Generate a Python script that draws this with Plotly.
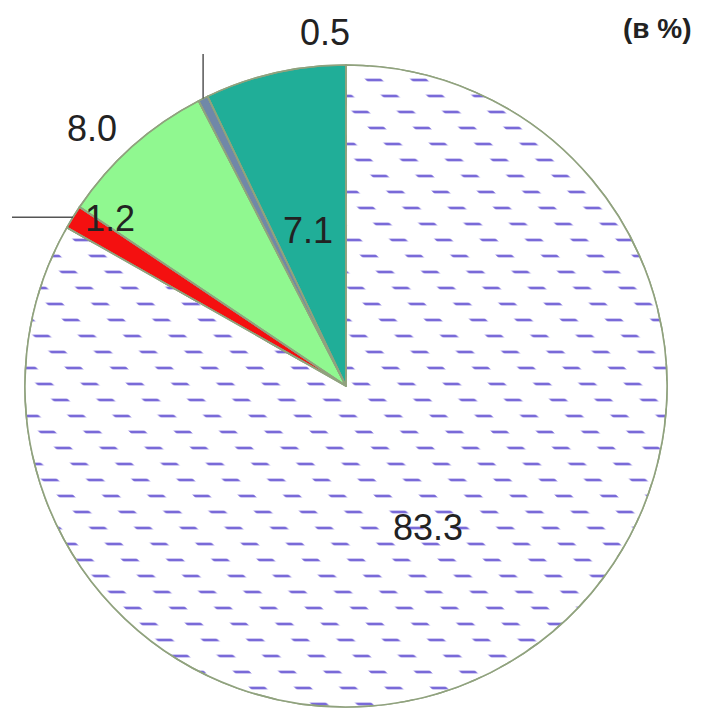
import math
import plotly.graph_objects as go

# ---- data ----
values = [83.3, 1.2, 8.0, 0.5, 7.1]
labels_txt = ["83.3", "1.2", "8.0", "0.5", "7.1"]
unit_note = "(в %)"

# ---- style ----
colors = ["#ffffff", "#f41010", "#90f890", "#7088a8", "#20ae98"]
W, H = 701, 711          # browser window
PAGE = 8                 # default body margin of the html page
FW, FH = W - PAGE, H - PAGE
CX, CY, R = 346, 386, 321  # pie centre / radius in window px

# label placement: (radius factor, angle offset in degrees from slice middle)
label_place = [(0.51, 0.0), (0.90, 3.6), (1.128, -2.9), (1.103, 23.0), (0.50, -1.0)]
FONT = "Liberation Sans, Arial, sans-serif"
TRANSPARENT = "rgba(0,0,0,0)"


def px_to_paper(x, y):
    return (x - PAGE) / FW, 1 - (y - PAGE) / FH


def polar_px(angle_deg, rfac):
    a = math.radians(angle_deg)
    return CX + rfac * R * math.sin(a), CY - rfac * R * math.cos(a)


total = sum(values)
mids = []
acc = 0.0
for v in values:
    mids.append((acc + v / 2) / total * 360.0)
    acc += v

dx0, dy0 = px_to_paper(CX - R, CY + R)
dx1, dy1 = px_to_paper(CX + R, CY - R)
domain = dict(x=[dx0, dx1], y=[dy0, dy1])
border = dict(color="#90a27e", width=1.6)

fig = go.Figure()
# base pie: solid colours + horizontal purple lines on the large slice
fig.add_trace(go.Pie(
    values=values, labels=labels_txt, sort=False, direction="clockwise", rotation=0,
    textinfo="none", hoverinfo="none", showlegend=False,
    marker=dict(
        colors=colors,
        line=border,
        pattern=dict(
            shape=["-", "", "", "", ""],
            fgcolor="#6a5ad4", fgopacity=0.9,
            bgcolor=colors, size=16, solidity=0.17, fillmode="replace",
        ),
    ),
    domain=domain,
))
# overlay: white diagonal bands chop the lines into staggered dashes
fig.add_trace(go.Pie(
    values=values, labels=labels_txt, sort=False, direction="clockwise", rotation=0,
    textinfo="none", hoverinfo="none", showlegend=False,
    marker=dict(
        colors=[TRANSPARENT] * len(values),
        line=border,
        pattern=dict(
            shape=["\\", "", "", "", ""],
            fgcolor="#ffffff", fgopacity=1,
            bgcolor=[TRANSPARENT] * len(values), size=32, solidity=0.64,
            fillmode="replace",
        ),
    ),
    domain=domain,
))

annotations = []
for txt, mid, (rf, off) in zip(labels_txt, mids, label_place):
    x, y = polar_px(mid + off, rf)
    xp, yp = px_to_paper(x, y)
    annotations.append(dict(
        x=xp, y=yp, xref="paper", yref="paper", text=txt, showarrow=False,
        xanchor="center", yanchor="middle",
        font=dict(family=FONT, size=36, color="#222222"),
    ))

ux, uy = px_to_paper(657, 29)
annotations.append(dict(
    x=ux, y=uy, xref="paper", yref="paper", text="<b>" + unit_note + "</b>",
    showarrow=False, xanchor="center", yanchor="middle",
    font=dict(family=FONT, size=28, color="#222222"),
))

# leader lines for the small slices
shapes = []
ex, ey = polar_px(mids[1], 1.0)
x0, y0 = px_to_paper(ex, ey)
x1, _ = px_to_paper(12, ey)
shapes.append(dict(type="line", xref="paper", yref="paper", x0=x0, y0=y0, x1=x1, y1=y0,
                   line=dict(color="#555555", width=1.5)))
ex, ey = polar_px(mids[3], 1.0)
x0, y0 = px_to_paper(ex, ey)
_, y1 = px_to_paper(ex, 54)
shapes.append(dict(type="line", xref="paper", yref="paper", x0=x0, y0=y0, x1=x0, y1=y1,
                   line=dict(color="#555555", width=1.5)))

fig.update_layout(
    width=FW, height=FH,
    margin=dict(l=0, r=0, t=0, b=0),
    paper_bgcolor="white", plot_bgcolor="white",
    annotations=annotations, shapes=shapes,
)

fig.write_html("out.html")
